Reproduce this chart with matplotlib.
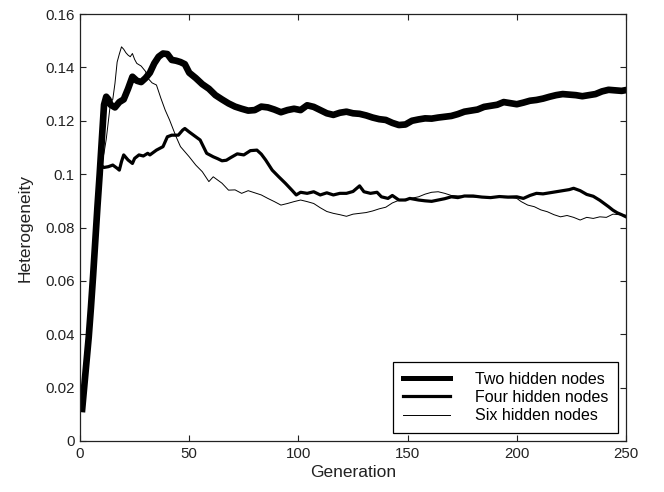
import matplotlib
matplotlib.use("Agg")
import matplotlib.pyplot as plt

plt.rcParams["font.family"] = ["Liberation Sans", "DejaVu Sans"]

# Heterogeneity per generation for each network size
gen_two = [1, 2, 3, 4, 5, 6, 7, 8, 9, 10, 11, 12, 13, 14, 16, 18, 20, 22, 24, 26,
           28, 30, 32, 34, 36, 38, 40, 42, 44, 46, 48, 50, 53, 56, 59, 62, 65, 68,
           71, 74, 77, 80, 83, 86, 89, 92, 95, 98, 101, 104, 107, 110, 113, 116,
           119, 122, 125, 128, 131, 134, 137, 140, 143, 146, 149, 152, 155, 158,
           161, 164, 167, 170, 173, 176, 179, 182, 185, 188, 191, 194, 197, 200,
           203, 206, 209, 212, 215, 218, 221, 224, 227, 230, 233, 236, 239, 242,
           245, 248, 250]
het_two = [0.012, 0.021, 0.030, 0.039, 0.050, 0.062, 0.075, 0.088, 0.100, 0.113,
           0.126, 0.129, 0.128, 0.126, 0.125, 0.127, 0.128, 0.132, 0.1365, 0.135,
           0.1345, 0.136, 0.138, 0.1415, 0.144, 0.1452, 0.145, 0.1428, 0.1425,
           0.142, 0.1412, 0.138, 0.136, 0.1337, 0.132, 0.1296, 0.128, 0.1265,
           0.1253, 0.1245, 0.1238, 0.1240, 0.1253, 0.1250, 0.1242, 0.1232, 0.1240,
           0.1245, 0.1240, 0.1258, 0.1252, 0.1240, 0.1228, 0.1222, 0.1230, 0.1234,
           0.1228, 0.1226, 0.1220, 0.1212, 0.1206, 0.1203, 0.1192, 0.1184, 0.1186,
           0.1200, 0.1205, 0.1209, 0.1208, 0.1212, 0.1215, 0.1218, 0.1225, 0.1234,
           0.1238, 0.1242, 0.1252, 0.1256, 0.1260, 0.1270, 0.1266, 0.1262, 0.1268,
           0.1275, 0.1278, 0.1283, 0.1290, 0.1296, 0.1300, 0.1298, 0.1296, 0.1292,
           0.1296, 0.1300, 0.1310, 0.1316, 0.1314, 0.1312, 0.1315]

gen_four = [1, 2, 3, 4, 5, 6, 7, 8, 9, 10, 11, 13, 15, 17, 18, 19, 20, 22, 24, 25,
            27, 29, 31, 32, 35, 38, 40, 42, 45, 47, 48, 50, 52, 55, 58, 61, 63, 65,
            67, 69, 72, 75, 78, 81, 83, 85, 88, 91, 94, 97, 99, 101, 104, 107, 110,
            113, 116, 119, 122, 125, 128, 130, 133, 136, 138, 141, 143, 146, 149,
            151, 155, 158, 161, 164, 167, 170, 173, 176, 180, 184, 188, 192, 196,
            200, 203, 206, 209, 212, 215, 218, 221, 224, 226, 229, 232, 235, 238,
            240, 242, 244, 246, 248, 250]
het_four = [0.012, 0.021, 0.030, 0.039, 0.050, 0.062, 0.075, 0.088, 0.098, 0.103,
            0.1025, 0.1028, 0.1034, 0.1022, 0.1015, 0.1047, 0.1072, 0.1053, 0.104,
            0.1059, 0.1072, 0.1068, 0.1078, 0.1072, 0.109, 0.1103, 0.114, 0.1146,
            0.1146, 0.1165, 0.1171, 0.1158, 0.1146, 0.1128, 0.1078, 0.1065, 0.1058,
            0.1050, 0.1052, 0.1062, 0.1076, 0.1072, 0.1088, 0.109, 0.1075, 0.1053,
            0.1015, 0.099, 0.0966, 0.094, 0.0922, 0.0932, 0.0928, 0.0934, 0.0922,
            0.0930, 0.0922, 0.0928, 0.0928, 0.0935, 0.0956, 0.0934, 0.0928, 0.0932,
            0.0915, 0.0909, 0.0920, 0.0903, 0.0903, 0.0909, 0.0903, 0.0900, 0.0898,
            0.0903, 0.0908, 0.0915, 0.0912, 0.0918, 0.0918, 0.0914, 0.0912, 0.0916,
            0.0914, 0.0915, 0.0909, 0.0920, 0.0928, 0.0926, 0.0930, 0.0934, 0.0938,
            0.0942, 0.0947, 0.0938, 0.0924, 0.0917, 0.0902, 0.0890, 0.0878, 0.0865,
            0.0855, 0.0848, 0.0840]

gen_six = [1, 2, 3, 4, 5, 6, 7, 8, 9, 10, 11, 12, 13, 14, 15, 16, 17, 18, 19, 20,
           21, 22, 23, 24, 25, 26, 28, 30, 31, 33, 35, 37, 39, 41, 44, 46, 50, 53,
           56, 59, 61, 65, 68, 71, 74, 77, 80, 83, 86, 89, 92, 95, 98, 101, 104,
           107, 110, 113, 116, 119, 122, 125, 128, 131, 134, 137, 140, 143, 146,
           149, 152, 155, 158, 161, 164, 167, 170, 174, 178, 182, 186, 190, 194,
           198, 200, 202, 205, 208, 211, 214, 217, 220, 223, 226, 229, 232, 235,
           238, 241, 244, 247, 250]
het_six = [0.012, 0.021, 0.030, 0.039, 0.050, 0.062, 0.075, 0.088, 0.098, 0.104,
           0.108, 0.113, 0.120, 0.127, 0.128, 0.134, 0.142, 0.145, 0.1477, 0.1468,
           0.1455, 0.1446, 0.1440, 0.1452, 0.1430, 0.1415, 0.1405, 0.1385, 0.1360,
           0.1342, 0.1334, 0.1285, 0.1240, 0.1203, 0.1140, 0.1103, 0.1065, 0.1034,
           0.1009, 0.0972, 0.0990, 0.0966, 0.0940, 0.0941, 0.0928, 0.0938, 0.0930,
           0.0922, 0.0909, 0.0897, 0.0884, 0.0890, 0.0897, 0.0903, 0.0897, 0.0890,
           0.0874, 0.0860, 0.0853, 0.0848, 0.0842, 0.0850, 0.0853, 0.0856, 0.0862,
           0.0870, 0.0876, 0.0892, 0.0902, 0.0906, 0.0910, 0.0915, 0.0925, 0.0932,
           0.0934, 0.0928, 0.0920, 0.0918, 0.0915, 0.0914, 0.0912, 0.0915, 0.0912,
           0.0911, 0.0909, 0.0897, 0.0884, 0.0878, 0.0866, 0.0859, 0.0848, 0.0840,
           0.0845, 0.0838, 0.0828, 0.0838, 0.0834, 0.0840, 0.0838, 0.0850, 0.0848,
           0.0846]

series_labels = ["Two hidden nodes", "Four hidden nodes", "Six hidden nodes"]
x_ticks = [0, 50, 100, 150, 200, 250]
y_ticks = [0, 0.02, 0.04, 0.06, 0.08, 0.1, 0.12, 0.14, 0.16]
y_tick_labels = ["0", "0.02", "0.04", "0.06", "0.08", "0.1", "0.12", "0.14", "0.16"]

fig = plt.figure(figsize=(6.64, 4.92), dpi=100)
ax = fig.add_axes([0.1205, 0.1037, 0.8223, 0.8678])

ax.plot(gen_two, het_two, color="black", lw=4.8, label=series_labels[0])
ax.plot(gen_four, het_four, color="black", lw=2.3, label=series_labels[1])
ax.plot(gen_six, het_six, color="black", lw=0.7, label=series_labels[2])

ax.set_xlim(0, 250)
ax.set_ylim(0, 0.16)
ax.set_xticks(x_ticks)
ax.set_yticks(y_ticks)
ax.set_yticklabels(y_tick_labels)
ax.tick_params(direction="in", length=4, width=0.8, top=True, right=True,
               labelsize=10.8, colors="#222222", pad=4)
for s in ax.spines.values():
    s.set_linewidth(0.9)
    s.set_color("#222222")

ax.set_xlabel("Generation", fontsize=12.5, color="#222222", labelpad=3)
ax.set_ylabel("Heterogeneity", fontsize=12.5, color="#222222", labelpad=9)

leg = ax.legend(loc="lower right", fontsize=11.5, frameon=True, fancybox=False,
                edgecolor="black", framealpha=1, handlelength=2.94,
                handletextpad=1.6, labelspacing=0.21, borderaxespad=0.5,
                borderpad=0.6)
leg.get_frame().set_linewidth(0.9)
leg.legend_handles[0].set_linewidth(3.6)

fig.savefig("out.png", dpi=100, facecolor="white")
